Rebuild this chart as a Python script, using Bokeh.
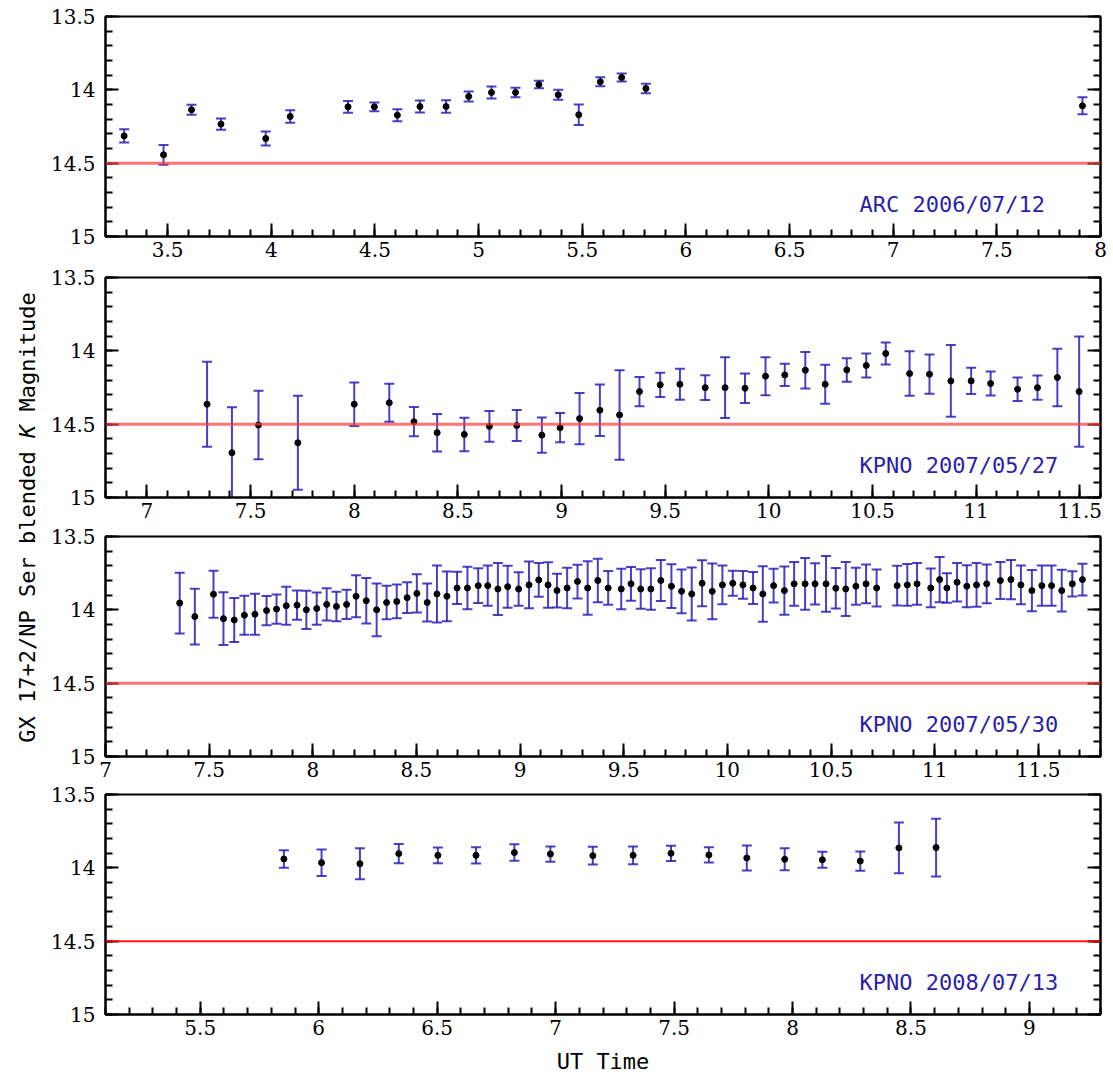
import numpy as np
from bokeh.plotting import figure
from bokeh.models import (ColumnDataSource, Span, Label, LinearAxis, FixedTicker,
                          CustomJSTickFormatter, Range1d)
from bokeh.layouts import column, row
from bokeh.embed import file_html
from bokeh.resources import INLINE
from bokeh.core.properties import value

# ---------------- data ----------------
# Panel 1: ARC 2006/07/12
arc_t = [3.29, 3.48, 3.615, 3.757, 3.973, 4.091, 4.37, 4.497, 4.608, 4.717, 4.843,
         4.952, 5.062, 5.178, 5.291, 5.384, 5.483, 5.587, 5.69, 5.807, 7.913]
arc_mag = [14.314, 14.443, 14.136, 14.234, 14.332, 14.182, 14.116, 14.116, 14.173, 14.114,
           14.114, 14.045, 14.018, 14.018, 13.964, 14.034, 14.17, 13.945, 13.916, 13.991, 14.109]
arc_err = [0.045, 0.067, 0.034, 0.039, 0.048, 0.042, 0.04, 0.03, 0.041, 0.041, 0.043,
           0.034, 0.041, 0.033, 0.026, 0.034, 0.07, 0.03, 0.027, 0.032, 0.058]

# Panel 2: KPNO 2007/05/27
k27_t = [7.29, 7.41, 7.538, 7.728, 8.0, 8.169, 8.288, 8.4, 8.531, 8.652, 8.784, 8.905,
         8.993, 9.087, 9.185, 9.28, 9.376, 9.476, 9.571, 9.693, 9.789, 9.885,
         9.984, 10.077, 10.176, 10.272, 10.376, 10.47, 10.564, 10.679, 10.775, 10.878,
         10.976, 11.07, 11.2, 11.296, 11.392, 11.497]
k27_mag = [14.364, 14.695, 14.506, 14.627, 14.364, 14.354, 14.483, 14.558, 14.57, 14.515, 14.509, 14.575,
           14.524, 14.462, 14.405, 14.437, 14.278, 14.232, 14.228, 14.251, 14.251, 14.255,
           14.173, 14.164, 14.132, 14.228, 14.13, 14.1, 14.018, 14.155, 14.159, 14.205,
           14.205, 14.223, 14.262, 14.251, 14.182, 14.278]
k27_err = [0.29, 0.31, 0.233, 0.32, 0.148, 0.13, 0.10, 0.128, 0.114, 0.105, 0.105, 0.12,
           0.1, 0.175, 0.175, 0.305, 0.1, 0.083, 0.105, 0.085, 0.207, 0.1,
           0.13, 0.076, 0.124, 0.133, 0.08, 0.082, 0.075, 0.152, 0.134, 0.244,
           0.089, 0.082, 0.08, 0.082, 0.196, 0.376]

# Panel 3: KPNO 2007/05/30
k30_t = [7.358, 7.431, 7.521, 7.569, 7.621, 7.67, 7.721, 7.777, 7.825, 7.872,
         7.924, 7.969, 8.019, 8.067, 8.114, 8.163, 8.209, 8.258, 8.308, 8.356,
         8.405, 8.455, 8.502, 8.552, 8.599, 8.647, 8.696, 8.746, 8.798, 8.844,
         8.893, 8.94, 8.993, 9.043, 9.09, 9.135, 9.178, 9.227, 9.277, 9.326,
         9.375, 9.425, 9.488, 9.535, 9.582, 9.631, 9.679, 9.73, 9.779, 9.828,
         9.878, 9.927, 9.976, 10.026, 10.075, 10.124, 10.171, 10.223, 10.275, 10.322,
         10.375, 10.423, 10.476, 10.523, 10.571, 10.62, 10.669, 10.72, 10.819, 10.868,
         10.915, 10.981, 11.024, 11.059, 11.108, 11.155, 11.202, 11.251, 11.317, 11.368,
         11.416, 11.469, 11.517, 11.564, 11.613, 11.664, 11.713]
k30_mag = [13.954, 14.046, 13.894, 14.06, 14.069, 14.037, 14.03, 14.005, 13.995, 13.972,
           13.968, 14.0, 13.991, 13.963, 13.977, 13.963, 13.908, 13.938, 14.0, 13.95,
           13.943, 13.917, 13.888, 13.95, 13.892, 13.908, 13.851, 13.851, 13.835, 13.835,
           13.858, 13.842, 13.858, 13.83, 13.796, 13.83, 13.869, 13.851, 13.807, 13.851,
           13.8, 13.851, 13.858, 13.823, 13.858, 13.858, 13.8, 13.839, 13.874, 13.892,
           13.819, 13.874, 13.83, 13.819, 13.83, 13.851, 13.892, 13.835, 13.869, 13.823,
           13.823, 13.823, 13.823, 13.853, 13.858, 13.839, 13.823, 13.851, 13.835, 13.83,
           13.823, 13.851, 13.794, 13.851, 13.812, 13.839, 13.83, 13.823, 13.8, 13.794,
           13.83, 13.869, 13.835, 13.835, 13.869, 13.823, 13.794]
k30_err = [0.207, 0.19, 0.16, 0.18, 0.15, 0.133, 0.14, 0.10, 0.1, 0.13,
           0.1, 0.13, 0.11, 0.11, 0.1, 0.1, 0.143, 0.155, 0.18, 0.115,
           0.115, 0.105, 0.13, 0.13, 0.195, 0.17, 0.11, 0.145, 0.118, 0.137,
           0.178, 0.143, 0.115, 0.16, 0.115, 0.155, 0.115, 0.138, 0.115, 0.183,
           0.149, 0.115, 0.138, 0.115, 0.134, 0.141, 0.14, 0.149, 0.149, 0.18,
           0.157, 0.19, 0.132, 0.085, 0.094, 0.109, 0.19, 0.115, 0.164, 0.149,
           0.177, 0.141, 0.19, 0.138, 0.184, 0.126, 0.132, 0.126, 0.135, 0.143,
           0.143, 0.132, 0.155, 0.1, 0.132, 0.143, 0.149, 0.132, 0.126, 0.133,
           0.132, 0.14, 0.138, 0.138, 0.143, 0.086, 0.109]

# Panel 4: KPNO 2008/07/13
k08_t = [5.853, 6.012, 6.174, 6.338, 6.503, 6.664, 6.826, 6.978, 7.157, 7.327,
         7.487, 7.647, 7.807, 7.967, 8.126, 8.286, 8.449, 8.606]
k08_mag = [13.94, 13.965, 13.972, 13.903, 13.915, 13.915, 13.896, 13.906, 13.917, 13.915,
           13.901, 13.912, 13.933, 13.942, 13.945, 13.954, 13.864, 13.862]
k08_err = [0.06, 0.09, 0.105, 0.066, 0.053, 0.055, 0.056, 0.052, 0.061, 0.06,
           0.052, 0.052, 0.086, 0.075, 0.055, 0.066, 0.173, 0.197]

panel_tags = ["ARC 2006/07/12", "KPNO 2007/05/27", "KPNO 2007/05/30", "KPNO 2008/07/13"]
x_limits = [(3.2, 8.0), (6.8, 11.6), (7.0, 11.8), (5.1, 9.3)]
x_major_ticks = [[3.5, 4, 4.5, 5, 5.5, 6, 6.5, 7, 7.5, 8],
                 [7, 7.5, 8, 8.5, 9, 9.5, 10, 10.5, 11, 11.5],
                 [7, 7.5, 8, 8.5, 9, 9.5, 10, 10.5, 11, 11.5],
                 [5.5, 6, 6.5, 7, 7.5, 8, 8.5, 9]]
y_major_ticks = [13.5, 14, 14.5, 15]
y_limits = (15.0, 13.5)
ref_mag = 14.5
y_label_parts = ["GX 17+2/NP Ser blended", "K", "Magnitude"]
x_label = "UT Time"

# ---------------- styling ----------------
TICK_FONT = "DejaVu Serif"
MONO = "DejaVu Sans Mono"
BAR_COLOR = "#2c1fb8"
TAG_COLOR = "#2a1fa8"

fmt_code = "return String(Math.round(tick*10)/10);"


def style_axis(ax, show_labels=True, standoff=8):
    ax.axis_line_width = 2
    ax.axis_line_color = "black"
    ax.major_tick_in = 13
    ax.major_tick_out = 0
    ax.minor_tick_in = 7
    ax.minor_tick_out = 0
    ax.major_tick_line_width = 2
    ax.minor_tick_line_width = 2
    ax.major_tick_line_color = "black"
    ax.minor_tick_line_color = "black"
    ax.major_label_text_font = TICK_FONT
    ax.major_label_text_color = "black"
    ax.major_label_standoff = standoff
    if show_labels:
        ax.major_label_text_font_size = "20px"
    else:
        ax.major_label_text_alpha = 0
        ax.major_label_text_font_size = "1px"
        ax.major_label_standoff = 0


def minor_list(lo, hi):
    return [float(v) for v in np.round(np.arange(lo, hi + 1e-9, 0.1), 2)]


def make_panel(i, t, mag, err, top, bottom, red_color, red_width, red_alpha, xlabel=None):
    xr = x_limits[i]
    p = figure(frame_width=995, frame_height=220,
               x_range=Range1d(*xr), y_range=Range1d(*y_limits),
               output_backend="svg", toolbar_location=None,
               x_axis_location=None, y_axis_location=None,
               min_border_left=63, min_border_right=13,
               min_border_top=top, min_border_bottom=bottom)
    p.outline_line_color = "black"
    p.outline_line_width = 2
    p.background_fill_color = "white"
    p.border_fill_color = "white"
    p.xgrid.visible = False
    p.ygrid.visible = False

    xt = FixedTicker(ticks=x_major_ticks[i], minor_ticks=minor_list(xr[0], xr[1]))
    yt = FixedTicker(ticks=y_major_ticks, minor_ticks=minor_list(13.5, 15.0))

    xa = LinearAxis(ticker=xt, formatter=CustomJSTickFormatter(code=fmt_code))
    style_axis(xa, True, standoff=5)
    if xlabel:
        xa.axis_label = xlabel
        xa.axis_label_text_font = MONO
        xa.axis_label_text_font_size = "22px"
        xa.axis_label_text_font_style = "normal"
        xa.axis_label_text_color = "black"
        xa.axis_label_standoff = 11
    p.add_layout(xa, "below")

    ya = LinearAxis(ticker=yt, formatter=CustomJSTickFormatter(code=fmt_code))
    style_axis(ya, True, standoff=10)
    p.add_layout(ya, "left")

    yr_ax = LinearAxis(ticker=yt, formatter=CustomJSTickFormatter(code=fmt_code))
    style_axis(yr_ax, False)
    p.add_layout(yr_ax, "right")

    for r in p.grid:
        r.visible = False

    p.add_layout(Span(location=ref_mag, dimension="width", line_color=red_color,
                      line_width=red_width, line_alpha=red_alpha))

    t = np.array(t, dtype=float)
    mag = np.array(mag, dtype=float)
    err = np.array(err, dtype=float)
    src = ColumnDataSource(dict(t=t, mag=mag, lo=mag + err, hi=mag - err))
    p.segment(x0="t", y0="lo", x1="t", y1="hi", source=src,
              line_color=BAR_COLOR, line_width=2, line_alpha=0.85)
    p.scatter(x="t", y="lo", source=src, marker="dash", size=10,
              line_color=BAR_COLOR, line_width=2, line_alpha=0.85)
    p.scatter(x="t", y="hi", source=src, marker="dash", size=10,
              line_color=BAR_COLOR, line_width=2, line_alpha=0.85)
    p.scatter(x="t", y="mag", source=src, marker="circle", size=6,
              fill_color="black", line_color="black")

    frac = 754.0 / 995.0
    p.add_layout(Label(x=xr[0] + frac * (xr[1] - xr[0]), y=14.78, text=panel_tags[i],
                       text_font=MONO, text_font_size="22px", text_color=TAG_COLOR,
                       text_baseline="middle", text_align="left"))
    return p


# frame tops at 17, 277, 536, 794 (each 220 tall)
p1 = make_panel(0, arc_t, arc_mag, arc_err, 16, 29, "#ff3b3b", 3, 0.7)
p2 = make_panel(1, k27_t, k27_mag, k27_err, 12, 27, "#ff3b3b", 3, 0.7)
p3 = make_panel(2, k30_t, k30_mag, k30_err, 12, 26, "#ff3b3b", 3, 0.7)
p4 = make_panel(3, k08_t, k08_mag, k08_err, 12, 67, "#ff0000", 2, 0.9, xlabel=x_label)

# y-axis label spanning the panels (drawn in pieces so spacing survives SVG)
H = 1080
lab = figure(width=42, height=H, x_range=Range1d(0, 42), y_range=Range1d(0, H),
             x_axis_type=None, y_axis_type=None, output_backend="svg",
             toolbar_location=None, min_border=0)
lab.outline_line_color = None
for r in lab.grid:
    r.visible = False
fs = 22
cw = 0.602 * fs
n_chars = sum(len(s) for s in y_label_parts) + len(y_label_parts) - 1
y_start = (H - 517) - n_chars * cw / 2.0
idx = 0
for k, part in enumerate(y_label_parts):
    lab.text(x=[27], y=[y_start + idx * cw], text=[part], angle=np.pi / 2,
             text_font=value(MONO), text_font_size=value("%dpx" % fs),
             text_font_style=value("italic" if part == "K" else "normal"),
             text_align="left", text_baseline="middle", text_color="black")
    idx += len(part) + 1

layout = row(lab, column(p1, p2, p3, p4))
open("out.html", "w").write(file_html(layout, INLINE))
